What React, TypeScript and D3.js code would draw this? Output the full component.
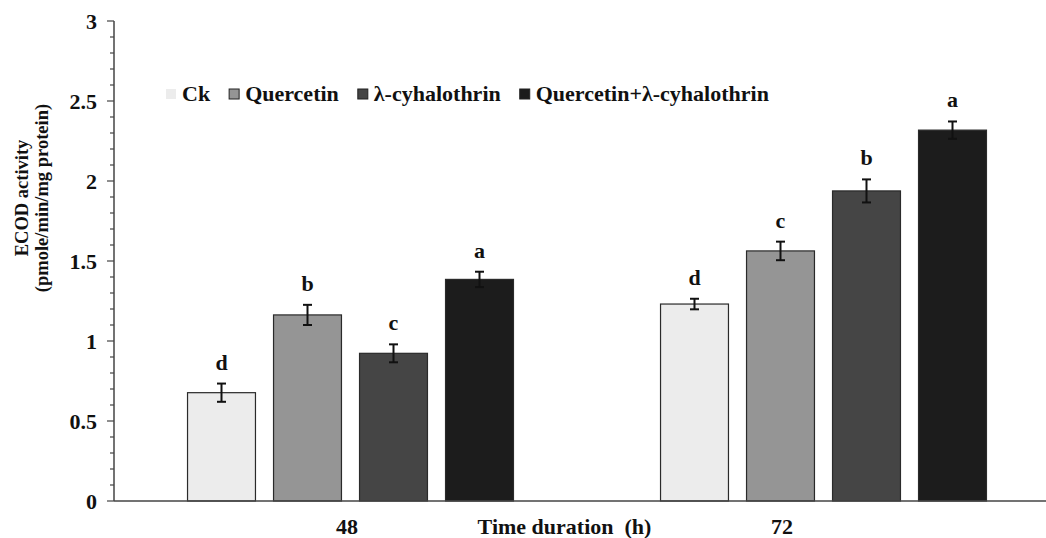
import React, { useEffect, useRef } from "react";
import * as d3 from "d3";

const categories = ["48", "72"];
const series = ["Ck", "Quercetin", "λ-cyhalothrin", "Quercetin+λ-cyhalothrin"];
const colors = ["#ececec", "#959595", "#454545", "#1c1c1c"];
// values[category][series]
const values48 = [0.677, 1.163, 0.923, 1.385];
const values72 = [1.231, 1.563, 1.938, 2.318];
const errors48 = [0.057, 0.063, 0.056, 0.048];
const errors72 = [0.033, 0.058, 0.072, 0.054];
const letters48 = ["d", "b", "c", "a"];
const letters72 = ["d", "c", "b", "a"];
const yTicks = [0, 0.5, 1, 1.5, 2, 2.5, 3];

const WIDTH = 1046;
const HEIGHT = 538;
const FONT = "'Liberation Serif', 'Times New Roman', serif";

export default function App() {
    const ref = useRef<SVGSVGElement>(null);

    useEffect(() => {
        const svg = d3.select(ref.current);
        svg.selectAll("*").remove();

        const rows = [
            { cat: "48", values: values48, errors: errors48, letters: letters48 },
            { cat: "72", values: values72, errors: errors72, letters: letters72 }
        ];

        // scales
        const x = d3.scaleBand().domain(categories).range([114, 1060]);
        const inner = d3.scaleBand()
            .domain(series)
            .range([0, x.bandwidth()])
            .paddingInner(0.21)
            .paddingOuter(0.855);
        const y = d3.scaleLinear().domain([0, 3]).range([501, 21]);

        // bars
        rows.forEach(row => {
            const g = svg.append("g").attr("transform", `translate(${x(row.cat)},0)`);
            series.forEach((s, i) => {
                const v = row.values[i];
                const e = row.errors[i];
                const cx = inner(s)! + inner.bandwidth() / 2;
                g.append("rect")
                    .attr("x", inner(s)!)
                    .attr("y", y(v))
                    .attr("width", inner.bandwidth())
                    .attr("height", y(0) - y(v))
                    .attr("fill", colors[i])
                    .attr("stroke", "#2a2a2a")
                    .attr("stroke-width", 1.2);
                // error bar
                g.append("line")
                    .attr("x1", cx).attr("x2", cx)
                    .attr("y1", y(v - e)).attr("y2", y(v + e))
                    .attr("stroke", "#111").attr("stroke-width", 2);
                [v - e, v + e].forEach(t => {
                    g.append("line")
                        .attr("x1", cx - 4.5).attr("x2", cx + 4.5)
                        .attr("y1", y(t)).attr("y2", y(t))
                        .attr("stroke", "#111").attr("stroke-width", 2);
                });
                g.append("text")
                    .attr("x", cx)
                    .attr("y", y(v + e) - 14)
                    .attr("text-anchor", "middle")
                    .attr("font-family", FONT)
                    .attr("font-weight", "bold")
                    .attr("font-size", 22)
                    .attr("fill", "#111")
                    .text(row.letters[i]);
            });
        });

        // y axis
        const minor = d3.range(0, 3.001, 0.1);
        svg.selectAll(".minor")
            .data(minor)
            .enter()
            .append("line")
            .attr("x1", d => (Math.abs(d * 2 - Math.round(d * 2)) < 1e-6 ? 107 : 110))
            .attr("x2", 114)
            .attr("y1", d => y(d))
            .attr("y2", d => y(d))
            .attr("stroke", "#444")
            .attr("stroke-width", 1.2);

        svg.append("line")
            .attr("x1", 114).attr("x2", 114)
            .attr("y1", y(3)).attr("y2", y(0))
            .attr("stroke", "#444").attr("stroke-width", 1.5);

        svg.selectAll(".ytick")
            .data(yTicks)
            .enter()
            .append("text")
            .attr("x", 97)
            .attr("y", d => y(d))
            .attr("dy", "0.35em")
            .attr("text-anchor", "end")
            .attr("font-family", FONT)
            .attr("font-weight", "bold")
            .attr("font-size", 22)
            .attr("fill", "#111")
            .text(d => String(d));

        // x axis
        svg.append("line")
            .attr("x1", 114).attr("x2", WIDTH)
            .attr("y1", y(0)).attr("y2", y(0))
            .attr("stroke", "#444").attr("stroke-width", 1.5);

        const labelPos = d3.scalePoint().domain(categories).range([347, 782]);
        svg.selectAll(".xtick")
            .data(categories)
            .enter()
            .append("text")
            .attr("x", d => labelPos(d)!)
            .attr("y", 534)
            .attr("text-anchor", "middle")
            .attr("font-family", FONT)
            .attr("font-weight", "bold")
            .attr("font-size", 22)
            .attr("fill", "#111")
            .text(d => d);

        svg.append("text")
            .attr("x", (labelPos("48")! + labelPos("72")!) / 2)
            .attr("y", 534)
            .attr("text-anchor", "middle")
            .attr("font-family", FONT)
            .attr("font-weight", "bold")
            .attr("font-size", 22)
            .attr("fill", "#111")
            .attr("xml:space", "preserve")
            .text("Time duration  (h)");

        // y title
        const yt = svg.append("text")
            .attr("transform", "translate(0,198) rotate(-90)")
            .attr("text-anchor", "middle")
            .attr("font-family", FONT)
            .attr("font-weight", "bold")
            .attr("font-size", 18.5)
            .attr("fill", "#111");
        yt.append("tspan").attr("x", 0).attr("y", 28).text("ECOD activity");
        yt.append("tspan").attr("x", 0).attr("y", 48).text("(pmole/min/mg protein)");

        // legend
        let lx = 166;
        series.forEach((s, i) => {
            svg.append("rect")
                .attr("x", lx)
                .attr("y", 89)
                .attr("width", 10)
                .attr("height", 10)
                .attr("fill", colors[i])
                .attr("stroke", i === 0 ? "none" : "#222")
                .attr("stroke-width", 1);
            const t = svg.append("text")
                .attr("x", lx + 16)
                .attr("y", 101)
                .attr("font-family", FONT)
                .attr("font-weight", "bold")
                .attr("font-size", 22)
                .attr("fill", "#111")
                .text(s);
            const w = (t.node() as SVGTextElement).getComputedTextLength();
            lx += 16 + w + 19;
        });
    }, []);

    return (
        <svg
            ref={ref}
            width={WIDTH}
            height={HEIGHT}
            style={{ position: "absolute", left: 0, top: 0, background: "#fff" }}
        />
    );
}
